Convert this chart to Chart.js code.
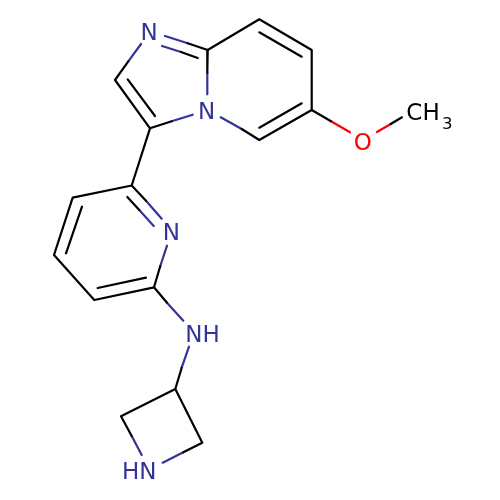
<!DOCTYPE html>
<html>
<head>
<meta charset="utf-8">
<style>
  html, body { margin: 0; padding: 0; background: #fff; }
  #chart { display: block; }
</style>
<script src="https://cdn.jsdelivr.net/npm/chart.js@4"></script>
</head>
<body>
<canvas id="chart" width="500" height="500"></canvas>
<script>
// bond pieces as [x1, y1, x2, y2]
const blackBonds = [
  [207.7, 50, 187.7, 43.3], [197.7, 58, 181, 52],
  [207.7, 50, 259.3, 19.3], [259.3, 32.3, 301.7, 56.7],
  [259.3, 19.3, 311.7, 50], [311.7, 50, 311.7, 110],
  [301.7, 103.3, 259.3, 127.7], [311.7, 110, 259.3, 140],
  [259.3, 140, 241.7, 129], [207.7, 50, 207.3, 72.7],
  [171.7, 121.3, 150, 128.3], [150, 128.3, 115, 80],
  [155, 116, 127.7, 79.3], [115, 80, 128.3, 61.3],
  [150, 128.3, 131.7, 185.5],
  [311.7, 110, 331, 121.3], [390.7, 124, 402, 117.3],
  [131.7, 185.5, 72.7, 197.7], [72.7, 197.7, 54, 255],
  [82, 206.7, 66, 253.3], [54, 255, 94.3, 300],
  [94.3, 300, 154, 287.3], [97.7, 288, 146, 277.7],
  [131.7, 185.5, 146, 200.7], [127.3, 197, 139.3, 210],
  [160.3, 266, 154, 287.3], [154, 287.3, 167, 302.7],
  [181.7, 367.7, 175.3, 389], [175.3, 389, 121, 416.3],
  [121, 416.3, 131.7, 436], [175.3, 389, 202.3, 442.7],
  [202.3, 442.7, 183.3, 452.3]
];
const blueBonds = [
  [187.7, 43.3, 165, 36], [181, 52, 162, 46],
  [207.3, 72.7, 207.3, 94.3], [241.7, 129, 220.7, 117.3],
  [192.7, 114.7, 171.7, 121.3], [128.3, 61.3, 141, 44],
  [146, 200.7, 161.7, 218.7], [139.3, 210, 153.7, 226],
  [167, 245.7, 160.3, 266], [167, 302.7, 183.3, 320.7],
  [189, 346.7, 181.7, 367.7], [131.7, 436, 141.7, 455],
  [183.3, 452.3, 162.7, 462.7]
];
const redBonds = [
  [331, 121.3, 350, 132.3], [377, 132, 390.7, 124]
];

const atomLabels = ["N", "N", "N", "NH", "HN", "O", "CH", "3"];
const atomX = [149, 206.7, 171.3, 202.5, 139.2, 362.7, 423, 447.3];
const atomY = [32, 111, 231.3, 333.3, 470.7, 141.3, 111.7, 122.7];
const atomKinds = ["n", "n", "n", "n", "n", "o", "c", "c"];

const kindColors = { n: "#333399", o: "#ff0000", c: "#000000" };

// bonds go in as one broken line per colour
function toPoints(bonds) {
  const pts = [];
  bonds.forEach(b => {
    pts.push({ x: b[0], y: b[1] }, { x: b[2], y: b[3] }, { x: b[2], y: null });
  });
  return pts;
}

function bondSet(bonds, color) {
  return {
    data: toPoints(bonds),
    showLine: true,
    spanGaps: false,
    borderColor: color,
    borderWidth: 2.2,
    borderCapStyle: "round",
    borderJoinStyle: "round",
    pointRadius: 0,
    pointHoverRadius: 0
  };
}

const atomLabelPlugin = {
  id: "atomLabels",
  afterDatasetsDraw(chart) {
    const { ctx, scales } = chart;
    ctx.save();
    ctx.textAlign = "center";
    ctx.textBaseline = "alphabetic";
    atomLabels.forEach((text, i) => {
      const size = text === "3" ? 16.5 : 23;
      ctx.font = size + 'px "DejaVu Sans"';
      ctx.fillStyle = kindColors[atomKinds[i]];
      // centre on cap height
      ctx.fillText(text, scales.x.getPixelForValue(atomX[i]), scales.y.getPixelForValue(atomY[i]) + size * 0.365);
    });
    ctx.restore();
  }
};

new Chart(document.getElementById("chart"), {
  type: "scatter",
  data: {
    datasets: [
      bondSet(blackBonds, "#000000"),
      bondSet(blueBonds, kindColors.n),
      bondSet(redBonds, kindColors.o)
    ]
  },
  options: {
    responsive: false,
    animation: false,
    devicePixelRatio: 1,
    layout: { padding: 0 },
    plugins: { legend: { display: false }, tooltip: { enabled: false } },
    scales: {
      x: { type: "linear", min: 0, max: 500, display: false },
      y: { type: "linear", min: 0, max: 500, reverse: true, display: false }
    }
  },
  plugins: [atomLabelPlugin]
});
</script>
</body>
</html>
